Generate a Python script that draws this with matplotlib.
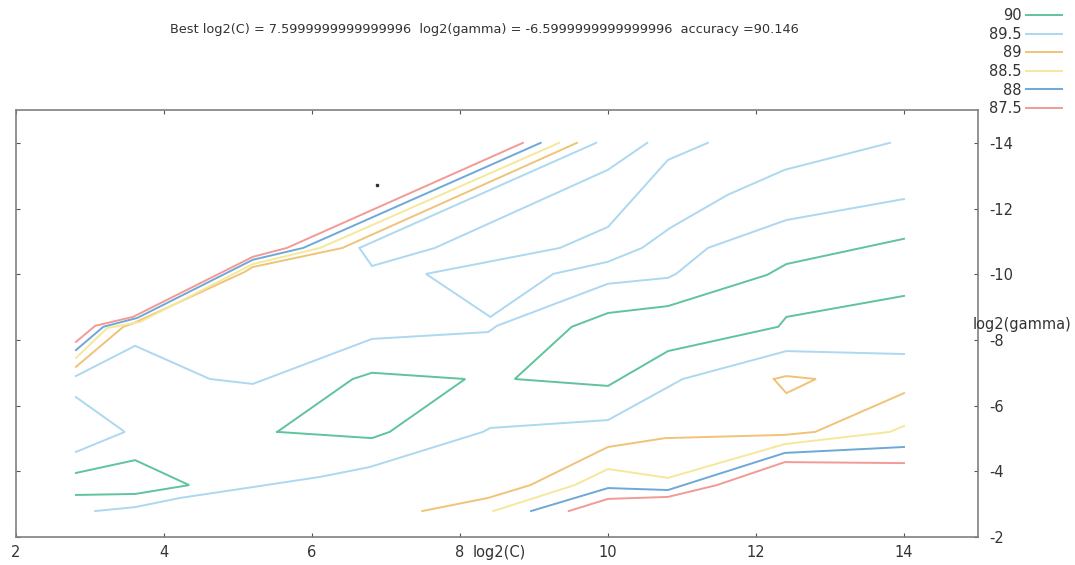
import matplotlib
matplotlib.use("Agg")
import matplotlib.pyplot as plt

plt.rcParams["axes.unicode_minus"] = False

# contour levels and colours (gnuplot style)
levels = ["90", "89.5", "89", "88.5", "88", "87.5"]
colors = ["#5fc49b", "#acd8f0", "#f0c378", "#f6e89a", "#6ea8d8", "#f29a96"]

# contour lines, one list of polylines per level
lvl_90_x = [[2.81, 3.61, 4.34, 3.61, 2.81],
            [5.53, 6.55, 6.81, 8.07, 7.05, 6.81, 5.53],
            [14.0, 12.41, 12.15, 10.81, 10.0, 9.51, 8.74, 10.0, 10.81, 12.30, 12.41, 14.0]]
lvl_90_y = [[-3.95, -4.34, -3.58, -3.31, -3.28],
            [-5.20, -6.81, -7.00, -6.81, -5.20, -5.01, -5.20],
            [-11.08, -10.31, -9.98, -9.03, -8.82, -8.40, -6.81, -6.60, -7.66, -8.40, -8.70, -9.34]]

lvl_895_x = [[9.84, 6.64, 6.81, 7.66, 10.0, 10.53],
             [11.35, 10.81, 10.0, 9.35, 7.54, 8.41, 9.26, 10.0, 10.46, 10.84, 11.62, 12.39, 13.81],
             [2.81, 3.47, 2.81],
             [2.81, 3.61, 4.62, 5.20, 6.81, 8.38, 8.50, 10.0, 10.81, 10.92, 11.35, 12.41, 14.0],
             [3.07, 3.61, 4.22, 5.20, 6.11, 6.78, 8.31, 8.41, 10.0, 11.01, 12.41, 14.0]]
lvl_895_y = [[-14.0, -10.80, -10.25, -10.80, -13.18, -14.0],
             [-14.0, -13.48, -11.44, -10.80, -10.01, -8.70, -10.01, -10.38, -10.80, -11.41, -12.42, -13.18, -14.0],
             [-6.26, -5.20, -4.59],
             [-6.90, -7.82, -6.81, -6.66, -8.03, -8.24, -8.43, -9.71, -9.89, -10.01, -10.80, -11.65, -12.29],
             [-2.79, -2.91, -3.19, -3.52, -3.83, -4.13, -5.20, -5.32, -5.56, -6.81, -7.66, -7.57]]

lvl_89_x = [[2.81, 3.45, 3.57, 5.09, 5.20, 6.41, 9.58],
            [7.49, 8.38, 8.95, 10.0, 10.77, 12.39, 12.80, 14.0],
            [12.24, 12.41, 12.81, 12.41, 12.24]]
lvl_89_y = [[-7.18, -8.40, -8.49, -10.07, -10.22, -10.80, -14.0],
            [-2.79, -3.19, -3.58, -4.74, -5.01, -5.11, -5.20, -6.38],
            [-6.81, -6.90, -6.81, -6.38, -6.81]]

lvl_885_x = [[2.81, 3.23, 3.68, 5.20, 6.11, 9.34],
             [8.45, 9.55, 10.0, 10.81, 12.39, 13.81, 14.0]]
lvl_885_y = [[-7.45, -8.36, -8.55, -10.31, -10.80, -14.0],
             [-2.79, -3.58, -4.07, -3.80, -4.83, -5.20, -5.38]]

lvl_88_x = [[2.81, 3.18, 3.64, 5.20, 5.88, 9.09],
            [8.96, 10.0, 10.81, 12.39, 14.0]]
lvl_88_y = [[-7.69, -8.40, -8.67, -10.44, -10.80, -14.0],
            [-2.79, -3.49, -3.43, -4.56, -4.74]]

lvl_875_x = [[2.81, 3.07, 3.58, 5.20, 5.66, 8.85],
             [9.47, 10.0, 10.81, 11.47, 12.39, 14.0]]
lvl_875_y = [[-7.94, -8.43, -8.70, -10.53, -10.80, -14.0],
             [-2.79, -3.16, -3.22, -3.58, -4.28, -4.25]]

stray_x = [6.88]
stray_y = [-12.72]

xticks = [2, 4, 6, 8, 10, 12, 14]
yticks = [-14, -12, -10, -8, -6, -4, -2]

all_x = [lvl_90_x, lvl_895_x, lvl_89_x, lvl_885_x, lvl_88_x, lvl_875_x]
all_y = [lvl_90_y, lvl_895_y, lvl_89_y, lvl_885_y, lvl_88_y, lvl_875_y]

txt = "#333333"
fig = plt.figure(figsize=(10.75, 5.65), dpi=100)
ax = fig.add_axes([16/1075, 28/565, 962/1075, 427/565])

handles = []
for lab, col, xs, ys in zip(levels, colors, all_x, all_y):
    for i, (lx, ly) in enumerate(zip(xs, ys)):
        ln, = ax.plot(lx, ly, color=col, lw=1.4, solid_joinstyle="miter")
        if i == 0:
            ln.set_label(lab)
            handles.append(ln)

ax.plot(stray_x, stray_y, "s", color="#333333", ms=1.6)

ax.set_xlim(2, 15)
ax.set_ylim(-2, -15)
ax.set_xticks(xticks)
ax.set_yticks(yticks)
ax.tick_params(axis="x", direction="in", top=True, bottom=True, labelbottom=True,
               length=3, width=0.8, color="#555555", labelsize=10.5, labelcolor=txt, pad=6)
ax.tick_params(axis="y", direction="in", left=True, right=True, labelleft=False,
               labelright=True, length=3, width=0.8, color="#555555", labelsize=10.5,
               labelcolor=txt, pad=8)
for s in ax.spines.values():
    s.set_color("#808080")
    s.set_linewidth(1.2)

fig.text(484/1075, 1 - 30/565,
         "Best log2(C) = 7.5999999999999996  log2(gamma) = -6.5999999999999996  accuracy =90.146",
         ha="center", va="center", fontsize=9.3, color=txt)
fig.text(499/1075, 1 - 552/565, "log2(C)", ha="center", va="center", fontsize=10.5, color=txt)
fig.text(1022/1075, 1 - 325/565, "log2(gamma)", ha="center", va="center", fontsize=10.5, color=txt)

fig.legend(handles=handles, loc="upper right", bbox_to_anchor=(1062/1075, 1 - 8/565),
           frameon=False, markerfirst=False, fontsize=10.5, handlelength=2.5,
           handletextpad=0.25, labelspacing=0.25, borderpad=0, borderaxespad=0,
           labelcolor=txt)

fig.savefig("out.png", dpi=100)
